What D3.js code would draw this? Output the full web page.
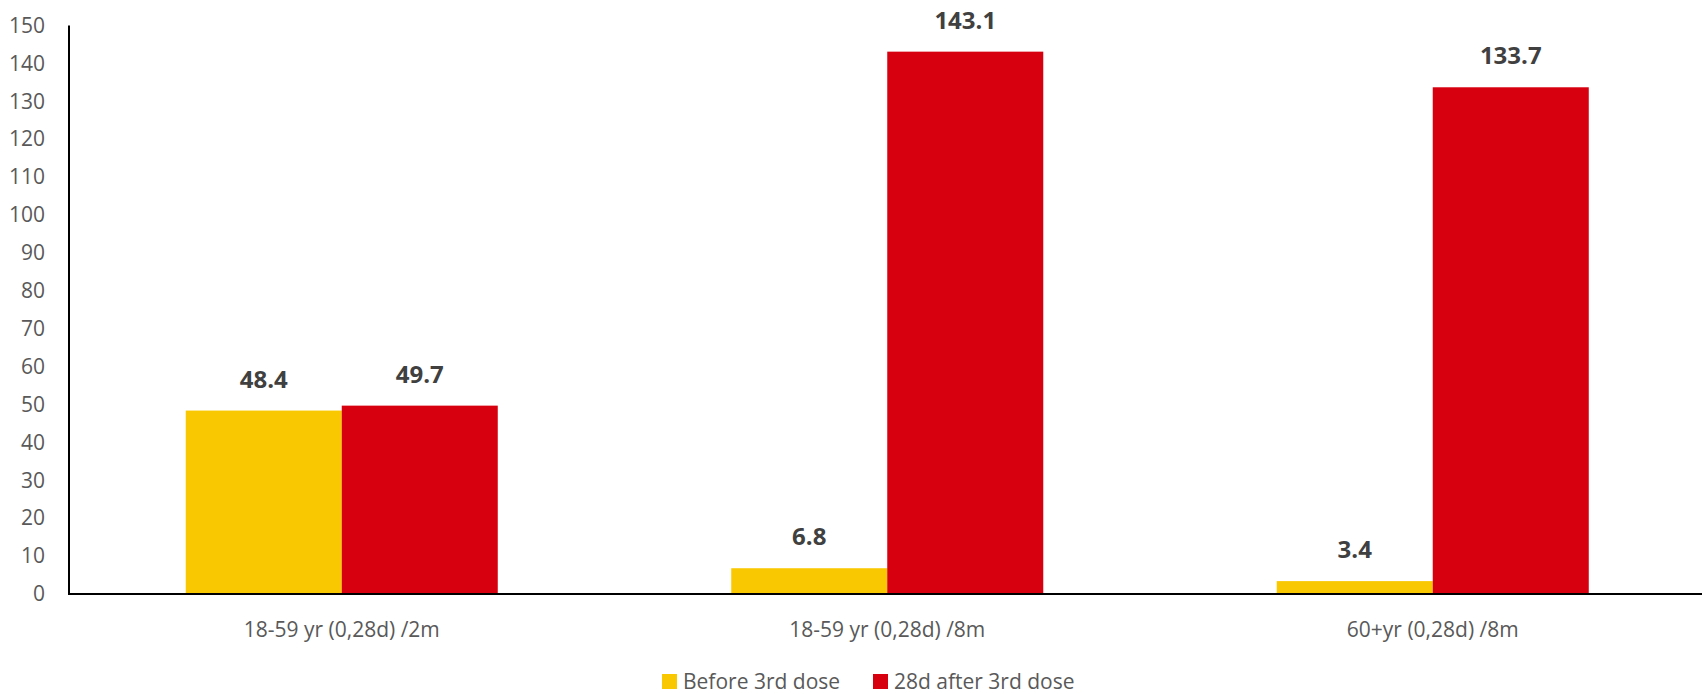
<!DOCTYPE html>
<html>
<head>
<meta charset="utf-8">
<script src="https://cdn.jsdelivr.net/npm/d3@7"></script>
<style>
  html, body { margin: 0; padding: 0; background: #fff; }
  svg { display: block; }
  text { font-family: "Open Sans", "Noto Sans", sans-serif; }
</style>
</head>
<body>
<svg id="chart" width="1702" height="694"></svg>
<script>
const categories = ["18-59 yr (0,28d) /2m", "18-59 yr (0,28d) /8m", "60+yr (0,28d) /8m"];
const seriesNames = ["Before 3rd dose", "28d after 3rd dose"];
const beforeValues = [48.4, 6.8, 3.4];
const afterValues = [49.7, 143.1, 133.7];
const yTicks = [0, 10, 20, 30, 40, 50, 60, 70, 80, 90, 100, 110, 120, 130, 140, 150];
const colors = ["#FAC800", "#D7000F"];

const svg = d3.select("#chart");
const W = 1702, H = 694;

const x0 = d3.scaleBand().domain(categories).range([69, 1705.5])
  .paddingInner(0.428).paddingOuter(0.214);
const x1 = d3.scaleBand().domain(seriesNames).range([0, x0.bandwidth()]).padding(0);
const y = d3.scaleLinear().domain([0, 150]).range([594, 25.5]);

const rows = categories.map((c, i) => ({
  cat: c,
  vals: [
    { s: seriesNames[0], v: beforeValues[i], c: colors[0] },
    { s: seriesNames[1], v: afterValues[i], c: colors[1] }
  ]
}));

// y tick labels
const yAxis = d3.axisLeft(y).tickValues(yTicks).tickSize(0).tickPadding(0);
const gy = svg.append("g").attr("transform", "translate(45,0)").call(yAxis);
gy.select(".domain").remove();
gy.selectAll("text")
  .attr("font-size", 21).attr("fill", "#595959")
  .attr("font-family", "'Open Sans', sans-serif")
  .attr("dy", "0.32em").attr("x", 0);

// bars
const g = svg.append("g");
const groups = g.selectAll("g.grp").data(rows).join("g")
  .attr("class", "grp")
  .attr("transform", d => `translate(${x0(d.cat)},0)`);
groups.selectAll("rect").data(d => d.vals).join("rect")
  .attr("x", d => x1(d.s))
  .attr("width", x1.bandwidth())
  .attr("y", d => y(d.v))
  .attr("height", d => y(0) - y(d.v))
  .attr("fill", d => d.c);
groups.selectAll("text").data(d => d.vals).join("text")
  .attr("x", d => x1(d.s) + x1.bandwidth() / 2)
  .attr("y", d => y(d.v) - 23)
  .attr("text-anchor", "middle")
  .attr("font-size", 24).attr("font-weight", "bold").attr("fill", "#404040")
  .text(d => d.v.toFixed(1));

// axes lines
const xAxis = d3.axisBottom(x0).tickSize(0).tickPadding(0);
const gx = svg.append("g").attr("transform", `translate(0,${y(0)})`).call(xAxis);
gx.select(".domain").attr("stroke", "#000").attr("stroke-width", 2)
  .attr("d", `M69,0H${W}`);
gx.selectAll("text")
  .attr("font-size", 21).attr("fill", "#595959")
  .attr("font-family", "'Open Sans', sans-serif")
  .attr("dy", 0).attr("y", 42.5);

svg.append("line")
  .attr("x1", 69).attr("x2", 69)
  .attr("y1", y(150)).attr("y2", y(0) + 1)
  .attr("stroke", "#000").attr("stroke-width", 2);

// legend
const legendX = [662, 873];
const lg = svg.append("g").selectAll("g").data(seriesNames).join("g")
  .attr("transform", (d, i) => `translate(${legendX[i]},674)`);
lg.append("rect").attr("width", 15).attr("height", 15).attr("fill", (d, i) => colors[i]);
lg.append("text").attr("x", 21).attr("y", 15)
  .attr("font-size", 21).attr("fill", "#595959").text(d => d);
</script>
</body>
</html>
